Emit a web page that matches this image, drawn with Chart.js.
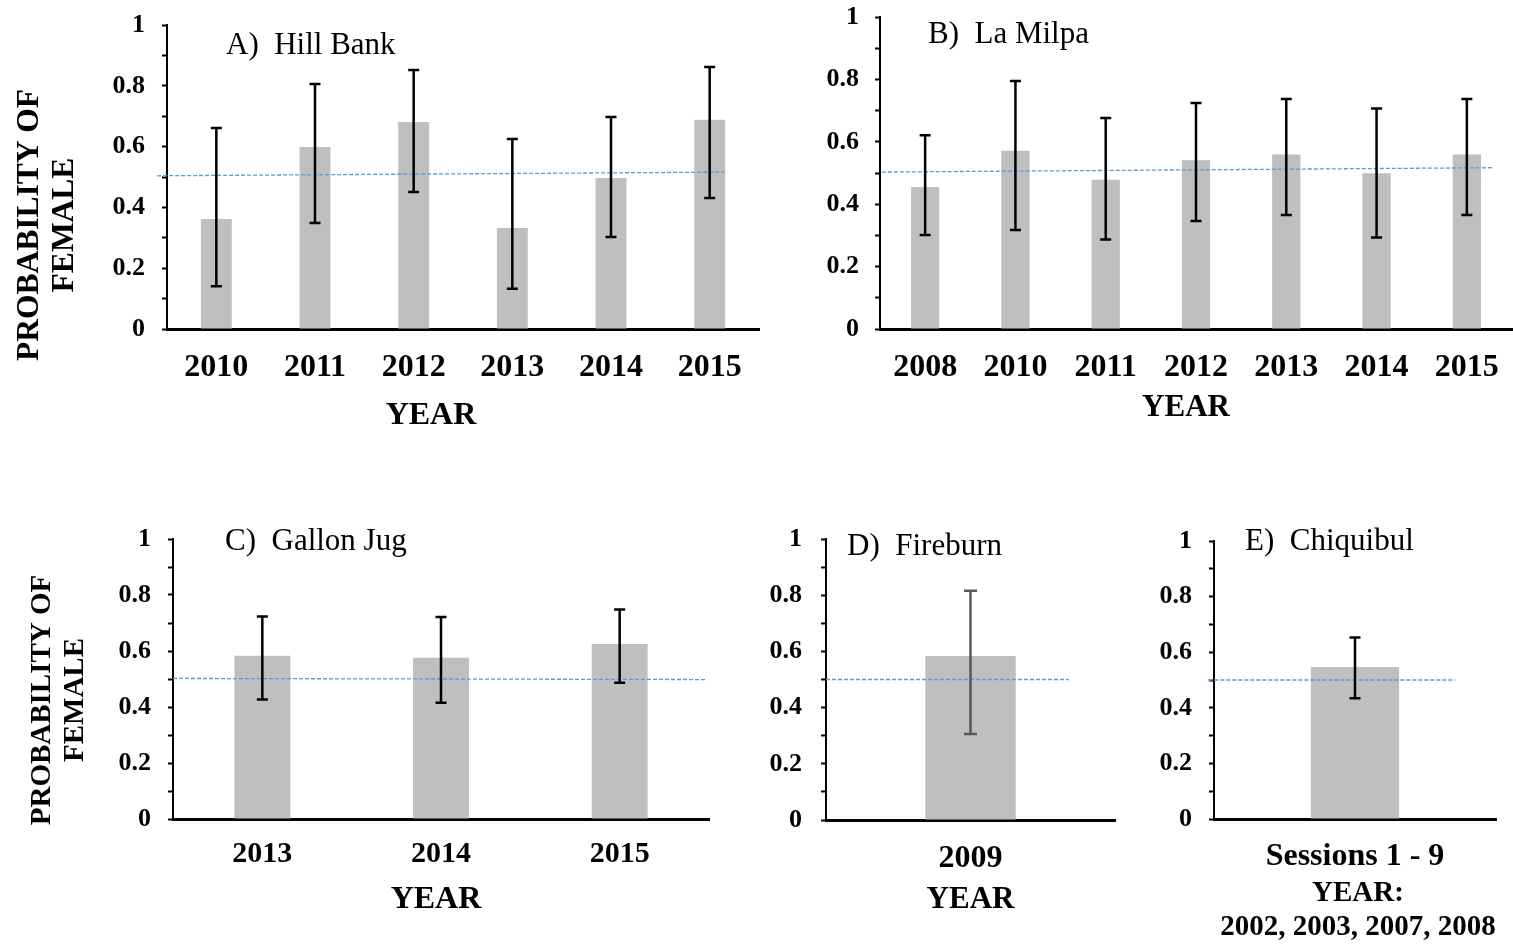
<!DOCTYPE html>
<html><head><meta charset="utf-8">
<script src="https://cdn.jsdelivr.net/npm/chart.js@4/dist/chart.umd.min.js"></script>
<style>
html,body{margin:0;padding:0;background:#fff;}
body{width:1513px;height:944px;position:relative;overflow:hidden;}
canvas{position:absolute;}
</style></head><body>
<canvas id="cA" width="770" height="440" style="left:0;top:0"></canvas>
<canvas id="cB" width="723" height="440" style="left:790px;top:0"></canvas>
<canvas id="cC" width="720" height="444" style="left:0;top:500px"></canvas>
<canvas id="cD" width="390" height="444" style="left:740px;top:500px"></canvas>
<canvas id="cE" width="383" height="444" style="left:1130px;top:500px"></canvas>
<script>
// ---- data ----
const labelsA = ['2010','2011','2012','2013','2014','2015'];
const valuesA = [0.362,0.599,0.681,0.332,0.497,0.688];
const lowA    = [0.141,0.349,0.451,0.132,0.303,0.431];
const highA   = [0.661,0.806,0.852,0.625,0.697,0.862];
const trendXA = [-0.6, 5.15];
const trendYA = [0.504, 0.516];

const labelsB = ['2008','2010','2011','2012','2013','2014','2015'];
const valuesB = [0.455,0.571,0.478,0.541,0.559,0.499,0.559];
const lowB    = [0.301,0.317,0.287,0.346,0.365,0.293,0.365];
const highB   = [0.621,0.795,0.676,0.724,0.737,0.707,0.737];
const trendXB = [-0.48, 6.3];
const trendYB = [0.503, 0.517];

const labelsC = ['2013','2014','2015'];
const valuesC = [0.583,0.576,0.625];
const lowC    = [0.427,0.415,0.487];
const highC   = [0.723,0.721,0.748];
const trendXC = [-0.5, 2.48];
const trendYC = [0.502, 0.498];

const labelsD = ['2009'];
const valuesD = [0.584];
const lowD    = [0.306];
const highD   = [0.816];
const trendXD = [-0.5, 0.34];
const trendYD = [0.5, 0.5];

const labelsE = ['Sessions 1 - 9'];
const valuesE = [0.547];
const lowE    = [0.434];
const highE   = [0.653];
const trendXE = [-0.52, 0.355];
const trendYE = [0.5, 0.5];

const yTickStep = 0.1;
const yLabelEvery = 2;

// ---- drawing ----
const SERIF = '"Liberation Serif", "Times New Roman", serif';

function makePanel(id, d, g) {
  const n = d.labels.length;
  const errorBars = {
    id: 'errorBars',
    afterDatasetsDraw(chart) {
      const ctx = chart.ctx, x = chart.scales.x, y = chart.scales.y;
      ctx.save();
      ctx.strokeStyle = g.errColor; ctx.lineWidth = g.errWidth; ctx.lineCap = 'butt';
      d.low.forEach((lo, i) => {
        const px = x.getPixelForValue(i);
        const yl = y.getPixelForValue(lo), yh = y.getPixelForValue(d.high[i]);
        ctx.beginPath();
        ctx.moveTo(px, yl); ctx.lineTo(px, yh);
        ctx.moveTo(px - g.cap, yl); ctx.lineTo(px + g.cap, yl);
        ctx.moveTo(px - g.cap, yh); ctx.lineTo(px + g.cap, yh);
        ctx.stroke();
      });
      ctx.restore();
    }
  };
  const texts = {
    id: 'texts',
    afterDraw(chart) {
      const ctx = chart.ctx, ca = chart.chartArea;
      ctx.save();
      ctx.fillStyle = '#000';
      // panel title
      ctx.font = g.titleSize + 'px ' + SERIF;
      ctx.textAlign = 'left'; ctx.textBaseline = 'alphabetic';
      ctx.fillText(d.title, ca.left + g.titleDx, ca.top + g.titleDy);
      // x-axis title
      ctx.font = 'bold ' + g.xTitleSize + 'px ' + SERIF;
      ctx.textAlign = 'center'; ctx.textBaseline = 'middle';
      const cx = (ca.left + ca.right) / 2 + g.xTitleDx;
      g.xTitle.forEach((ln, k) => ctx.fillText(ln, cx, ca.bottom + g.xTitleDy[k]));
      // y-axis title
      if (g.yTitle) {
        ctx.font = 'bold ' + g.yTitle.size + 'px ' + SERIF;
        g.yTitle.lines.forEach((ln, k) => {
          ctx.save();
          ctx.translate(g.yTitle.x[k], g.yTitle.yc);
          ctx.rotate(-Math.PI / 2);
          ctx.fillText(ln, 0, 0);
          ctx.restore();
        });
      }
      ctx.restore();
    }
  };
  new Chart(document.getElementById(id), {
    type: 'bar',
    data: {
      labels: d.labels,
      datasets: [
        { type: 'bar', data: d.values, backgroundColor: '#bfbfbf', borderWidth: 0, grouped: false,
          barPercentage: 0.313, categoryPercentage: 1, order: 2, xAxisID: 'x', yAxisID: 'y' },
        { type: 'line', data: d.trendX.map((v, i) => ({ x: v, y: d.trendY[i] })),
          xAxisID: 'xt', yAxisID: 'y', borderColor: '#5b9bd5', borderWidth: 1.3,
          borderDash: [4, 2], pointRadius: 0, fill: false, clip: false, order: 1, tension: 0 }
      ]
    },
    options: {
      responsive: false, animation: false, devicePixelRatio: 1,
      layout: { padding: { left: 0, top: g.padT, right: g.padR, bottom: 0 } },
      plugins: { legend: { display: false }, tooltip: { enabled: false }, title: { display: false } },
      scales: {
        x: {
          type: 'category', offset: true,
          afterFit: s => { s.height = g.xh; s.paddingLeft = 0; s.paddingRight = 0; },
          grid: { display: false, drawTicks: false },
          border: { display: true, color: '#000', width: 3 },
          ticks: { padding: g.xPad, color: '#000', autoSkip: false, maxRotation: 0,
                   font: { family: SERIF, size: g.xTickSize, weight: 'bold' } },
          title: { display: false }
        },
        xt: { type: 'linear', display: false, offset: false, bounds: 'data', min: -0.5, max: n - 0.5 },
        y: {
          min: 0, max: 1,
          afterFit: s => { s.width = g.yw; s.paddingTop = 0; s.paddingBottom = 0; },
          grid: { display: true, drawOnChartArea: false, drawTicks: true, tickLength: 5,
                  tickWidth: 2, tickColor: '#000', color: '#000' },
          border: { display: true, color: '#000', width: 2 },
          ticks: { stepSize: yTickStep, autoSkip: false, padding: g.yPad, color: '#000',
                   font: { family: SERIF, size: 26, weight: 'bold' },
                   callback: v => { const t = Math.round(v / yTickStep); return t % yLabelEvery === 0 ? String(Math.round(v * 10) / 10) : ''; } }
        }
      }
    },
    plugins: [errorBars, texts]
  });
}

const yTitleLines = ['PROBABILITY OF', 'FEMALE'];

makePanel('cA', { labels: labelsA, values: valuesA, low: lowA, high: highA, trendX: trendXA, trendY: trendYA, title: 'A)  Hill Bank' },
  { padT: 25, padR: 11, xh: 111, yw: 167, xPad: 20, yPad: 17, xTickSize: 32,
    xTitle: ['YEAR'], xTitleSize: 32, xTitleDx: -32, xTitleDy: [87],
    errColor: '#000', errWidth: 2.5, cap: 5.5, titleSize: 31, titleDx: 59, titleDy: 29,
    yTitle: { lines: yTitleLines, size: 31.5, x: [29.5, 65], yc: 225 } });

makePanel('cB', { labels: labelsB, values: valuesB, low: lowB, high: highB, trendX: trendXB, trendY: trendYB, title: 'B)  La Milpa' },
  { padT: 17, padR: 1, xh: 111, yw: 90, xPad: 20, yPad: 16, xTickSize: 32,
    xTitle: ['YEAR'], xTitleSize: 31, xTitleDx: -10, xTitleDy: [79],
    errColor: '#000', errWidth: 2.5, cap: 5.5, titleSize: 31, titleDx: 48, titleDy: 26 });

makePanel('cC', { labels: labelsC, values: valuesC, low: lowC, high: highC, trendX: trendXC, trendY: trendYC, title: 'C)  Gallon Jug' },
  { padT: 39, padR: 11, xh: 125, yw: 173, xPad: 17.5, yPad: 17, xTickSize: 30,
    xTitle: ['YEAR'], xTitleSize: 32, xTitleDx: -5, xTitleDy: [81],
    errColor: '#000', errWidth: 2.5, cap: 5.5, titleSize: 31, titleDx: 52, titleDy: 11,
    yTitle: { lines: yTitleLines, size: 29, x: [42.5, 75.5], yc: 200 } });

makePanel('cD', { labels: labelsD, values: valuesD, low: lowD, high: highD, trendX: trendXD, trendY: trendYD, title: 'D)  Fireburn' },
  { padT: 39, padR: 15, xh: 124, yw: 86, xPad: 20, yPad: 19, xTickSize: 32,
    xTitle: ['YEAR'], xTitleSize: 31, xTitleDx: 0, xTitleDy: [80],
    errColor: '#595959', errWidth: 2.5, cap: 6.5, titleSize: 31, titleDx: 21, titleDy: 16 });

makePanel('cE', { labels: labelsE, values: valuesE, low: lowE, high: highE, trendX: trendXE, trendY: trendYE, title: 'E)  Chiquibul' },
  { padT: 41, padR: 17, xh: 125, yw: 84, xPad: 19, yPad: 17, xTickSize: 32,
    xTitle: ['YEAR:', '2002, 2003, 2007, 2008'], xTitleSize: 29, xTitleDx: 3, xTitleDy: [75, 109],
    errColor: '#000', errWidth: 2.5, cap: 5.5, titleSize: 31, titleDx: 31, titleDy: 9 });
</script>
</body></html>
